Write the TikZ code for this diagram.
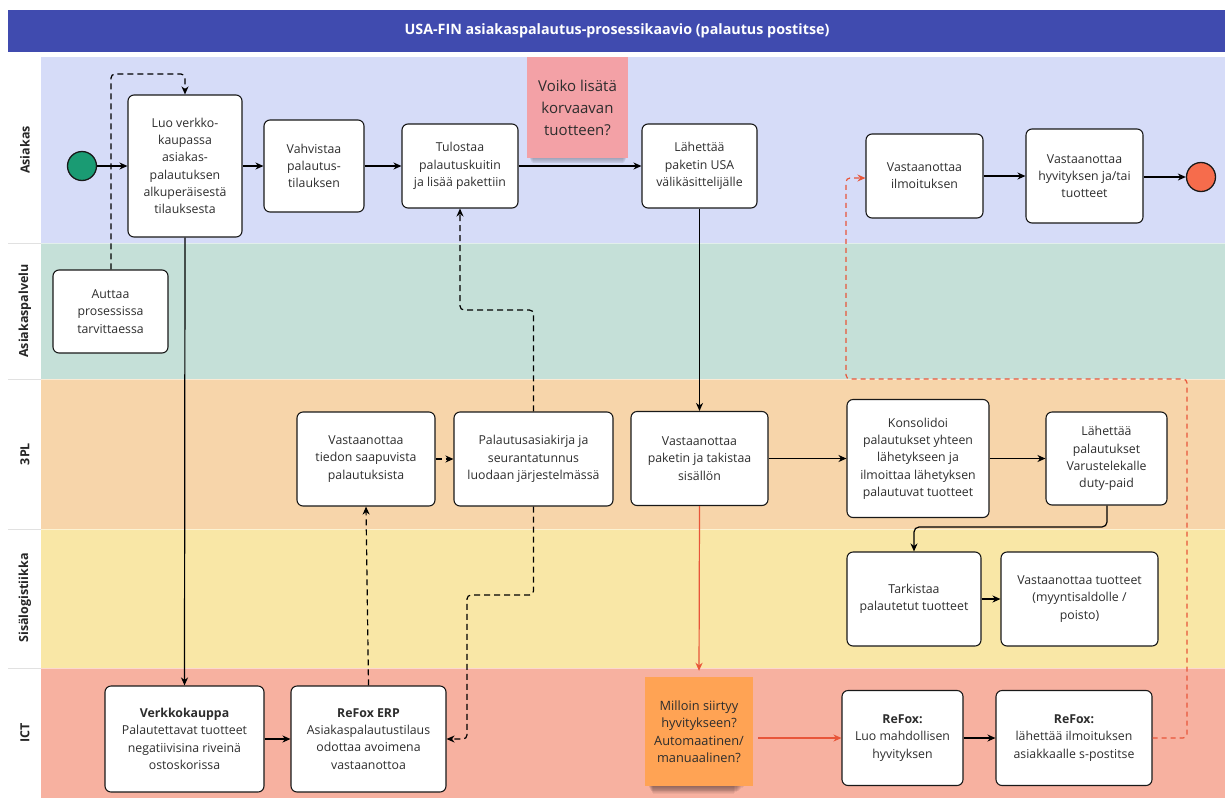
\documentclass[tikz,border=0pt]{standalone}
\usepackage{fontspec}
\setmainfont{Open Sans}
\usetikzlibrary{arrows.meta}

\definecolor{titleblue}{RGB}{64,75,175}
\definecolor{laneA}{RGB}{214,220,248}
\definecolor{laneB}{RGB}{197,224,216}
\definecolor{laneC}{RGB}{247,213,170}
\definecolor{laneD}{RGB}{249,231,166}
\definecolor{laneE}{RGB}{247,177,160}
\definecolor{stickypink}{RGB}{243,161,166}
\definecolor{stickyorange}{RGB}{255,163,84}
\definecolor{startgreen}{RGB}{26,155,115}
\definecolor{endred}{RGB}{246,108,76}
\definecolor{flowred}{RGB}{232,86,58}
\definecolor{textgray}{RGB}{45,45,45}
\definecolor{sepgray}{RGB}{225,225,225}

\tikzset{
  taskbox/.style={draw=black!90, fill=white, rounded corners=6pt, line width=1.1pt,
    align=center, inner sep=0pt, text=textgray,
    font=\fontsize{12.3}{17.3}\selectfont},
  stickynote/.style={inner sep=0pt, align=center, text=textgray},
  lanelabel/.style={rotate=90, font=\fontsize{12.5}{15}\selectfont\bfseries, text=black!85},
  flow/.style={line width=1.2pt, draw=black, -{Stealth[length=8pt,width=7pt,inset=2.5pt]}},
  thickflow/.style={flow, line width=1.7pt},
  msg/.style={flow, dash pattern=on 6pt off 4pt, rounded corners=4pt},
  redflow/.style={line width=1.2pt, draw=flowred, -{Stealth[length=8pt,width=7pt,inset=2.5pt]}, color=flowred},
  reddash/.style={redflow, dash pattern=on 5pt off 4pt, rounded corners=4pt},
  event/.style={circle, draw=black!90, line width=1.3pt, minimum size=29pt, inner sep=0pt}
}

\begin{document}
\begin{tikzpicture}[x=1pt,y=-1pt]
\useasboundingbox (0,0) rectangle (1225,798);
\fill[white] (0,0) rectangle (1225,798);

% title bar
\fill[titleblue] (8,10) rectangle (1225,52);
\node[text=white, font=\fontsize{14.3}{16}\selectfont\bfseries] (title) at (617,31)
  {USA-FIN asiakaspalautus-prosessikaavio (palautus postitse)};

% swimlanes
\fill[laneA] (41,57) rectangle (1225,243);
\fill[laneB] (41,243) rectangle (1225,379);
\fill[laneC] (41,379) rectangle (1225,529);
\fill[laneD] (41,529) rectangle (1225,668);
\fill[laneE] (41,668) rectangle (1225,798);
\foreach \yy in {243,379,529,668} {
  \draw[sepgray, line width=0.8pt] (8,\yy) -- (41,\yy);
  \draw[white, opacity=0.5, line width=0.8pt] (41,\yy) -- (1225,\yy);
}
\node[lanelabel] (lA) at (25,150) {Asiakas};
\node[lanelabel] (lB) at (25,311) {Asiakaspalvelu};
\node[lanelabel] (lC) at (25,454) {3PL};
\node[lanelabel] (lD) at (25,598) {Sisälogistiikka};
\node[lanelabel] (lE) at (25,733) {ICT};

% soft shadows under the sticky notes
\foreach \k in {1,...,6}
  \fill[black, opacity=0.045] (529+\k*0.6,58+\k) rectangle (627-\k*0.6,158+\k*0.9);
\foreach \k in {1,...,9}
  \fill[black, opacity=0.05] (648+\k*0.5,680+\k) rectangle (745-\k*1.2,786+\k*0.9);

% Asiakas
\node[event, fill=startgreen] (start) at (82,166) {};
\node[taskbox, minimum width=114pt, minimum height=142pt] (luo) at (185,166)
  {Luo verkko-\\kaupassa\\asiakas-\\palautuksen\\alkuperäisestä\\tilauksesta};
\node[taskbox, minimum width=100pt, minimum height=92pt] (vahv) at (314,166)
  {Vahvistaa\\palautus-\\tilauksen};
\node[taskbox, minimum width=116pt, minimum height=84pt] (tulo) at (460,166)
  {Tulostaa\\palautuskuitin\\ja lisää pakettiin};
\node[stickynote, fill=stickypink, minimum width=101pt, minimum height=101pt,
  font=\fontsize{15}{22}\selectfont] (voiko) at (577.5,107.5)
  {Voiko lisätä\\korvaavan\\tuotteen?};
\node[taskbox, minimum width=115pt, minimum height=84pt] (lahe) at (699.5,166)
  {Lähettää\\paketin USA\\välikäsittelijälle};
\node[taskbox, minimum width=117pt, minimum height=84pt] (vilm) at (924.5,176)
  {Vastaanottaa\\ilmoituksen};
\node[taskbox, minimum width=117pt, minimum height=94pt] (vhyv) at (1084.5,176)
  {Vastaanottaa\\hyvityksen ja/tai\\tuotteet};
\node[event, fill=endred] (end) at (1201,177) {};

% Asiakaspalvelu
\node[taskbox, minimum width=115pt, minimum height=83pt] (autt) at (110.5,311.5)
  {Auttaa\\prosessissa\\tarvittaessa};

% 3PL
\node[taskbox, minimum width=138pt, minimum height=94pt] (vtie) at (366,459)
  {Vastaanottaa\\tiedon saapuvista\\palautuksista};
\node[taskbox, minimum width=159pt, minimum height=94pt] (pala) at (533.5,459)
  {Palautusasiakirja ja\\seurantatunnus\\luodaan järjestelmässä};
\node[taskbox, minimum width=137pt, minimum height=94pt] (vpak) at (699.5,458.5)
  {Vastaanottaa\\paketin ja takistaa\\sisällön};
\node[taskbox, minimum width=142pt, minimum height=118pt] (kons) at (918,458.5)
  {Konsolidoi\\palautukset yhteen\\lähetykseen ja\\ilmoittaa lähetyksen\\palautuvat tuotteet};
\node[taskbox, minimum width=121pt, minimum height=93pt] (lpal) at (1106.5,458.5)
  {Lähettää\\palautukset\\Varustelekalle\\duty-paid};

% Sisälogistiikka
\node[taskbox, minimum width=134pt, minimum height=94pt] (tark) at (914,599)
  {Tarkistaa\\palautetut tuotteet};
\node[taskbox, minimum width=157pt, minimum height=94pt] (vtuo) at (1079.5,599)
  {Vastaanottaa tuotteet\\(myyntisaldolle /\\poisto)};

% ICT
\node[taskbox, minimum width=159pt, minimum height=106pt] (verk) at (184.5,739)
  {\textbf{Verkkokauppa}\\Palautettavat tuotteet\\negatiivisina riveinä\\ostoskorissa};
\node[taskbox, minimum width=155pt, minimum height=106pt] (refe) at (368.5,739)
  {\textbf{ReFox ERP}\\Asiakaspalautustilaus\\odottaa avoimena\\vastaanottoa};
\node[stickynote, fill=stickyorange, minimum width=108pt, minimum height=109pt,
  font=\fontsize{12.8}{17.5}\selectfont] (milloin) at (699,731.5)
  {Milloin siirtyy\\hyvitykseen?\\Automaatinen/\\manuaalinen?};
\node[taskbox, minimum width=121pt, minimum height=95pt] (rluo) at (902.5,738)
  {\textbf{ReFox:}\\Luo mahdollisen\\hyvityksen};
\node[taskbox, minimum width=156pt, minimum height=95pt] (rlah) at (1074,738)
  {\textbf{ReFox:}\\lähettää ilmoituksen\\asiakkaalle s-postitse};

% helper points for the bent connectors
\coordinate (c1) at (111,74);
\coordinate (c2) at (185,74);
\coordinate (c3) at (533.5,310);
\coordinate (c4) at (460,310);
\coordinate (c5) at (533.5,595);
\coordinate (c6) at (467,595);
\coordinate (c7) at (467,739);
\coordinate (c8) at (1107,527);
\coordinate (c9) at (914,527);
\coordinate (r1) at (1187,738);
\coordinate (r2) at (1187,379);
\coordinate (r3) at (846,379);
\coordinate (r4) at (846,178);

% sequence flows
\draw[flow] (start) -- (luo);
\draw[flow] (luo) -- (vahv);
\draw[flow] (vahv) -- (tulo);
\draw[flow] (tulo) -- (lahe);
\draw[flow] (lahe.south) -- (vpak.north);
\draw[flow] (luo.south) -- (verk.north);
\draw[flow] (verk) -- (refe);
\draw[flow] (vpak) -- (kons);
\draw[thickflow] (kons.east |- vpak.east) -- (lpal.west |- vpak.east);
\draw[flow, rounded corners=5pt] (lpal.south -| c8) -- (c8) -- (c9) -- (tark.north);
\draw[flow] (tark) -- (vtuo);
\draw[thickflow] (rluo) -- (rlah);
\draw[flow] (vilm) -- (vhyv);
\draw[flow] (vhyv.east |- end) -- (end);

% message flows
\draw[msg] (autt.north -| c1) -- (c1) -- (c2) -- (luo.north);
\draw[msg] (refe.north) -- (vtie.south);
\draw[msg] (vtie) -- (pala);
\draw[msg] (pala.north) -- (c3) -- (c4) -- (tulo.south);
\draw[msg] (pala.south) -- (c5) -- (c6) -- (c7) -- (refe.east);

% credit path
\draw[redflow, shorten >=6pt] (vpak.south) -- (milloin.north);
\draw[redflow, shorten <=5pt] (milloin.east |- rluo.west) -- (rluo.west);
\draw[reddash] (rlah.east) -- (r1) -- (r2) -- (r3) -- (r4) -- (vilm.west |- r4);
\end{tikzpicture}
\end{document}
